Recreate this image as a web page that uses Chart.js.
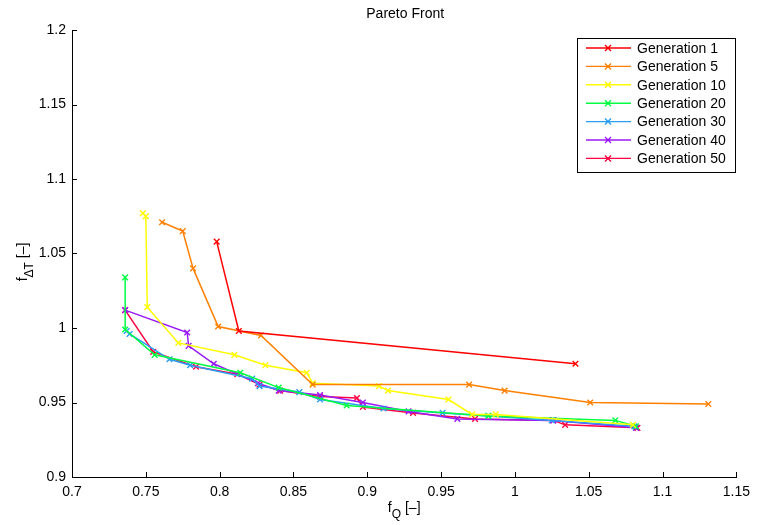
<!DOCTYPE html>
<html>
<head>
<meta charset="utf-8">
<script src="https://cdn.jsdelivr.net/npm/chart.js@4"></script>
<style>
  html, body { margin: 0; padding: 0; background: #fff; }
  #wrap { width: 757px; height: 525px; }
</style>
</head>
<body>
<div id="wrap"><canvas id="pareto"></canvas></div>
<script>
// Pareto front data, [fQ, fdT] pairs
const gen1 = [[0.798, 1.058], [0.813, 0.998], [1.041, 0.976]];
const gen5 = [[0.761, 1.071], [0.775, 1.065], [0.782, 1.040], [0.799, 1.001], [0.828, 0.995],
    [0.863, 0.962], [0.969, 0.962], [0.993, 0.958], [1.051, 0.950], [1.131, 0.949]];
const gen10 = [[0.748, 1.077], [0.750, 1.075], [0.751, 1.014], [0.772, 0.990], [0.810, 0.982],
    [0.831, 0.975], [0.859, 0.970], [0.863, 0.963], [0.908, 0.961], [0.914, 0.958],
    [0.955, 0.952], [0.971, 0.942], [0.987, 0.942], [1.080, 0.935]];
const gen20 = [[0.736, 1.034], [0.736, 0.999], [0.756, 0.982], [0.814, 0.970], [0.840, 0.960],
    [0.886, 0.948], [0.982, 0.941], [1.068, 0.938], [1.082, 0.934]];
const gen30 = [[0.737, 0.998], [0.739, 0.996], [0.766, 0.979], [0.780, 0.975], [0.822, 0.966],
    [0.827, 0.961], [0.854, 0.957], [0.868, 0.952], [0.911, 0.946], [0.951, 0.943],
    [0.982, 0.941], [1.025, 0.938], [1.081, 0.934]];
const gen40 = [[0.736, 1.012], [0.778, 0.997], [0.779, 0.988], [0.796, 0.976], [0.826, 0.963],
    [0.840, 0.958], [0.868, 0.955], [0.897, 0.950], [0.928, 0.944], [0.961, 0.939],
    [1.026, 0.938], [1.082, 0.933]];
const gen50 = [[0.736, 1.012], [0.755, 0.984], [0.784, 0.974], [0.812, 0.969], [0.827, 0.962],
    [0.841, 0.958], [0.868, 0.954], [0.893, 0.953], [0.897, 0.947], [0.931, 0.943],
    [0.973, 0.939], [1.026, 0.938], [1.034, 0.935], [1.083, 0.933]];

const labels = ['Generation 1', 'Generation 5', 'Generation 10', 'Generation 20',
    'Generation 30', 'Generation 40', 'Generation 50'];
const series = [gen1, gen5, gen10, gen20, gen30, gen40, gen50];
const colors = ['#ff0000', '#ff8000', '#ffff00', '#00ff40', '#2a9df4', '#9a1af5', '#ff0040'];

const xTicks = [0.7, 0.75, 0.8, 0.85, 0.9, 0.95, 1, 1.05, 1.1, 1.15];
const yTicks = [0.9, 0.95, 1, 1.05, 1.1, 1.15, 1.2];

const FONT = '"Liberation Sans", Arial, sans-serif';

const datasets = series.map((pts, i) => ({
    label: labels[i],
    data: pts.map(p => ({ x: p[0], y: p[1] })),
    borderColor: colors[i],
    backgroundColor: colors[i],
    borderWidth: 1.5,
    pointStyle: 'crossRot',
    pointRadius: 4,
    pointBorderWidth: 1.4,
    showLine: true,
    tension: 0
}));

function fmt(v) {
    return String(parseFloat(v.toFixed(2)));
}

// draws "f" + subscript + " [–]" starting at x0 on the current baseline
function subLabel(ctx, x0, sub, centered) {
    ctx.font = '14px ' + FONT;
    const wF = ctx.measureText('f').width;
    const wR = ctx.measureText(' [–]').width;
    ctx.font = '12px ' + FONT;
    const wS = ctx.measureText(sub).width;
    const start = centered ? x0 - (wF + wS + wR) / 2 : x0;
    ctx.font = '14px ' + FONT;
    ctx.fillText('f', start, 0);
    ctx.font = '12px ' + FONT;
    ctx.fillText(sub, start + wF, 6);
    ctx.font = '14px ' + FONT;
    ctx.fillText(' [–]', start + wF + wS, 0);
}

// inward ticks, title, axis titles with subscripts and the boxed legend
const matlabLook = {
    id: 'matlabLook',
    afterDraw(chart) {
        const ctx = chart.ctx;
        const xs = chart.scales.x, ys = chart.scales.y;
        const area = chart.chartArea;
        ctx.save();
        ctx.strokeStyle = '#000';
        ctx.lineWidth = 1;
        ctx.beginPath();
        xTicks.forEach(v => {
            const px = Math.round(xs.getPixelForValue(v)) + 0.5;
            ctx.moveTo(px, area.bottom);
            ctx.lineTo(px, area.bottom - 5);
        });
        yTicks.forEach(v => {
            const py = Math.round(ys.getPixelForValue(v)) + 0.5;
            ctx.moveTo(area.left, py);
            ctx.lineTo(area.left + 5, py);
        });
        ctx.stroke();

        // title
        ctx.fillStyle = '#000';
        ctx.font = '14px ' + FONT;
        ctx.textAlign = 'center';
        ctx.textBaseline = 'middle';
        ctx.fillText('Pareto Front', (area.left + area.right) / 2 + 1, 14);

        ctx.textAlign = 'left';
        ctx.textBaseline = 'alphabetic';

        // x label
        ctx.translate(0, 512);
        subLabel(ctx, (area.left + area.right) / 2, 'Q', true);
        ctx.setTransform(1, 0, 0, 1, 0, 0);

        // y label
        ctx.translate(27, 262);
        ctx.rotate(-Math.PI / 2);
        subLabel(ctx, 0, 'ΔT', true);
        ctx.setTransform(1, 0, 0, 1, 0, 0);

        // legend
        const lx = 577, ly = 38, lw = 158, lh = 134;
        ctx.fillStyle = '#fff';
        ctx.fillRect(lx, ly, lw, lh);
        ctx.strokeStyle = '#000';
        ctx.strokeRect(lx + 0.5, ly + 0.5, lw, lh);
        chart.data.datasets.forEach((ds, i) => {
            const y = ly + 10 + i * 18.4;
            ctx.strokeStyle = ds.borderColor;
            ctx.lineWidth = 1.4;
            ctx.beginPath();
            ctx.moveTo(586, y);
            ctx.lineTo(631, y);
            ctx.moveTo(605, y - 3);
            ctx.lineTo(611, y + 3);
            ctx.moveTo(605, y + 3);
            ctx.lineTo(611, y - 3);
            ctx.stroke();
            ctx.fillStyle = '#000';
            ctx.font = '14px ' + FONT;
            ctx.textAlign = 'left';
            ctx.textBaseline = 'middle';
            ctx.fillText(ds.label, 637, y + 1);
        });
        ctx.restore();
    }
};

new Chart(document.getElementById('pareto'), {
    type: 'scatter',
    data: { datasets: datasets },
    options: {
        responsive: true,
        maintainAspectRatio: false,
        animation: false,
        layout: { padding: { left: 0, right: 14, top: 30, bottom: 0 } },
        plugins: {
            legend: { display: false },
            tooltip: { enabled: false }
        },
        scales: {
            x: {
                type: 'linear',
                min: 0.7,
                max: 1.15,
                afterFit: s => { s.height = 48; },
                afterBuildTicks: s => { s.ticks = xTicks.map(v => ({ value: v })); },
                grid: { display: false, drawTicks: false },
                border: { display: true, color: '#000', width: 1 },
                ticks: {
                    color: '#000',
                    padding: 7,
                    maxRotation: 0,
                    autoSkip: false,
                    font: { family: FONT, size: 14 },
                    callback: v => fmt(v)
                }
            },
            y: {
                type: 'linear',
                min: 0.9,
                max: 1.2,
                afterFit: s => { s.width = 72; },
                afterBuildTicks: s => { s.ticks = yTicks.map(v => ({ value: v })); },
                grid: { display: false, drawTicks: false },
                border: { display: true, color: '#000', width: 1 },
                ticks: {
                    color: '#000',
                    padding: 6,
                    autoSkip: false,
                    font: { family: FONT, size: 14 },
                    callback: v => fmt(v)
                }
            }
        }
    },
    plugins: [matlabLook]
});
</script>
</body>
</html>
